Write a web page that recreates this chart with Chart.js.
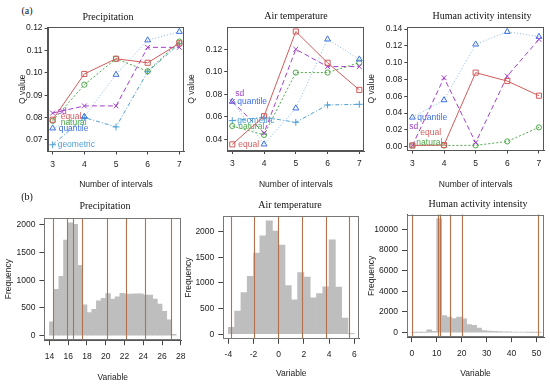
<!DOCTYPE html>
<html>
<head>
<meta charset="utf-8">
<script src="https://cdn.jsdelivr.net/npm/chart.js@4.4.1/dist/chart.umd.min.js"></script>
<style>
  body { margin: 0; background: #fff; }
  #page { position: relative; width: 550px; height: 384px; overflow: hidden; background: #fff; }
  #page canvas { position: absolute; }
  .ttl { position: absolute; font-family: "Liberation Serif", "Times New Roman", serif; font-size: 10px; color: #111;
         white-space: nowrap; transform: translate(-50%, -50%); z-index: 2; }
</style>
</head>
<body>
<div id="page">
  <div class="ttl" style="left:27px;top:10px">(a)</div>
  <div class="ttl" style="left:27px;top:196px">(b)</div>
  <div class="ttl" style="left:108px;top:16px">Precipitation</div>
  <div class="ttl" style="left:296px;top:15px">Air temperature</div>
  <div class="ttl" style="left:482px;top:15px">Human activity intensity</div>
  <div class="ttl" style="left:105px;top:205px">Precipitation</div>
  <div class="ttl" style="left:290px;top:204px">Air temperature</div>
  <div class="ttl" style="left:478px;top:203px">Human activity intensity</div>
</div>
<script>
// (a) Q value against number of intervals
const intervals = [3, 4, 5, 6, 7];

const precipEqual     = [0.0790, 0.0995, 0.1063, 0.1045, 0.1132];
const precipSd        = [0.0820, 0.0852, 0.0852, 0.1114, 0.1114];
const precipNatural   = [0.0785, 0.0947, 0.1063, 0.1007, 0.1140];
const precipQuantile  = [0.0752, 0.0804, 0.0992, 0.1146, 0.1184];
const precipGeometric = [0.0678, 0.0800, 0.0758, 0.1005, 0.1130];

const airEqual     = [0.0355, 0.0605, 0.1358, 0.1080, 0.0839];
const airSd        = [0.0735, 0.0457, 0.1200, 0.1046, 0.1046];
const airNatural   = [0.0518, 0.0439, 0.0993, 0.0993, 0.1081];
const airQuantile  = [0.0735, 0.0356, 0.0676, 0.1289, 0.1111];
const airGeometric = [0.0566, 0.0596, 0.0551, 0.0705, 0.0711];

const humanEqual    = [0.0015, 0.0020, 0.0881, 0.0781, 0.0607];
const humanSd       = [0.0012, 0.0821, 0.0048, 0.0841, 0.1277];
const humanNatural  = [0.0015, 0.0015, 0.0016, 0.0063, 0.0230];
const humanQuantile = [0.0349, 0.0555, 0.1218, 0.1368, 0.1309];

const precipQTicks = [0.07, 0.08, 0.09, 0.10, 0.11, 0.12];
const airQTicks = [0.04, 0.06, 0.08, 0.10, 0.12];
const humanQTicks = [0.00, 0.02, 0.04, 0.06, 0.08, 0.10, 0.12, 0.14];

// (b) histograms, bin counts and class breaks
const precipStart = 14, precipWidth = 0.5;
const precipCounts = [250, 835, 1070, 1725, 2040, 2010, 1270, 555, 415, 475, 630, 675, 760, 660,
                      700, 765, 750, 750, 755, 755, 735, 735, 660, 570, 440, 285, 25];
const precipBreaks = [14.33, 15.83, 16.56, 17.43, 20.12, 22.15, 24.14, 26.95];
const precipXTicks = [14, 16, 18, 20, 22, 24, 26, 28];
const precipFTicks = [0, 500, 1000, 1500, 2000];

const airStart = -4, airWidth = 0.5;
const airCounts = [135, 450, 815, 1130, 1585, 1920, 2212, 2012, 1740, 950,
                   672, 1205, 1115, 712, 795, 925, 1840, 920, 318, 20];
const airBreaks = [-3.80, -1.95, -0.04, 1.85, 3.72, 5.60];
const airXTicks = [-4, -2, 0, 2, 4, 6];
const airFTicks = [0, 500, 1000, 1500, 2000];

const humanStart = 0, humanWidth = 2;
const humanCounts = [20, 20, 30, 280, 130, 11050, 1660, 1500, 1370, 1500, 1330, 770, 710,
                     450, 210, 150, 120, 100, 90, 70, 60, 50, 40, 30, 25, 20];
const humanBreaks = [0.05, 10.5, 11.2, 15.3, 20.1, 50.7];
const humanXTicks = [0, 10, 20, 30, 40, 50];
const humanFTicks = [0, 2000, 4000, 6000, 8000, 10000];

// styles
const sans = '"Liberation Sans", Arial, sans-serif';
const tickFont = { family: sans, size: 8.5 };
const axisFont = { family: sans, size: 8.5 };
const ink = '#222';

const methodStyle = {
  equal:     { color: '#D25B5B', line: '#D25B5B', dash: [],           point: 'rect',     r: 3.6 },
  sd:        { color: '#A23FCB', line: '#A23FCB', dash: [5, 3],       point: 'crossRot', r: 3.4 },
  natural:   { color: '#4FA94A', line: '#4FA94A', dash: [2, 2],       point: 'circle',   r: 2.6 },
  quantile:  { color: '#3D6FE0', line: '#86B9EA', dash: [1, 2],       point: 'triangle', r: 3.4 },
  geometric: { color: '#4E9FD6', line: '#4E9FD6', dash: [4, 2, 1, 2], point: 'cross',    r: 3.4 }
};

const framePlugin = {
  id: 'frame',
  afterDraw(chart, args, opts) {
    const a = chart.chartArea, c = chart.ctx;
    c.save();
    c.strokeStyle = opts.color || '#555';
    c.lineWidth = 1;
    const l = Math.round(a.left) + 0.5, t = Math.round(a.top) + 0.5;
    const r = Math.round(a.right) - 0.5, b = Math.round(a.bottom) - 0.5;
    c.strokeRect(l, t, r - l, b - t);
    c.restore();
  }
};

// vertical class-break lines over the histogram
const breakPlugin = {
  id: 'breakLines',
  afterDatasetsDraw(chart, args, opts) {
    if (!opts.values) return;
    const xs = chart.scales.x, a = chart.chartArea, c = chart.ctx;
    c.save();
    c.strokeStyle = '#B5704C';
    c.lineWidth = 1.1;
    opts.values.forEach(v => {
      const px = Math.round(xs.getPixelForValue(v)) + 0.5;
      c.beginPath();
      c.moveTo(px, a.top);
      c.lineTo(px, a.bottom);
      c.stroke();
    });
    c.restore();
  }
};

// method names written beside the first point of each line
const namePlugin = {
  id: 'names',
  afterDatasetsDraw(chart, args, opts) {
    if (!opts.offsets) return;
    const c = chart.ctx;
    c.save();
    c.font = '8.5px ' + sans;
    c.textAlign = 'left';
    c.textBaseline = 'middle';
    chart.data.datasets.forEach((ds, i) => {
      const off = opts.offsets[ds.label];
      if (!off) return;
      const p = chart.getDatasetMeta(i).data[0];
      c.fillStyle = ds.pointBorderColor;
      c.fillText(ds.label, p.x + off[0], p.y + off[1]);
    });
    c.restore();
  }
};

function placeCanvas(g) {
  const lh = axisFont.size * 1.2;
  const yW = g.l - (g.yTitleX - lh / 2);
  const xH = g.xTitleY + lh / 2 - g.b;
  const left = Math.floor(g.l - yW - 3);
  const top = Math.floor(g.t - 10);
  const width = Math.ceil(g.r + 14 - left);
  const height = Math.ceil(g.b + xH + 2 - top);
  const cv = document.createElement('canvas');
  cv.width = width; cv.height = height;
  cv.style.left = left + 'px'; cv.style.top = top + 'px';
  cv.style.width = width + 'px'; cv.style.height = height + 'px';
  document.getElementById('page').appendChild(cv);
  return {
    cv, yW, xH,
    padding: { left: g.l - yW - left, top: g.t - top, right: left + width - g.r, bottom: top + height - g.b - xH }
  };
}

function makeScales(p, o) {
  return {
    x: {
      type: 'linear', min: o.xRange[0], max: o.xRange[1], offset: false,
      afterBuildTicks: s => { s.ticks = o.xTicks.map(v => ({ value: v })); },
      afterFit: s => { s.height = p.xH; },
      ticks: { font: tickFont, color: ink, padding: o.xPad, maxRotation: 0, autoSkip: false, callback: v => String(v) },
      grid: { drawOnChartArea: false, drawTicks: true, tickLength: o.tickLen, color: '#444', offset: false },
      border: { display: true, color: '#555' },
      title: { display: true, text: o.xTitle, font: axisFont, color: ink, padding: 0 }
    },
    y: {
      type: 'linear', min: o.yRange[0], max: o.yRange[1],
      afterBuildTicks: s => { s.ticks = o.yTicks.map(v => ({ value: v })); },
      afterFit: s => { s.width = p.yW; },
      ticks: { font: tickFont, color: ink, padding: o.yPad, autoSkip: false, callback: o.yFmt },
      grid: { drawOnChartArea: false, drawTicks: true, tickLength: o.tickLen, color: '#444' },
      border: { display: true, color: '#555' },
      title: { display: true, text: o.yTitle, font: axisFont, color: ink, padding: 0 }
    }
  };
}

function baseOptions(p, scales, plugins) {
  return {
    responsive: false, animation: false, devicePixelRatio: 1,
    layout: { padding: p.padding },
    scales,
    plugins: Object.assign({ legend: { display: false }, tooltip: { enabled: false }, title: { display: false } }, plugins)
  };
}

function qChart(g, series, yRange, yTicks, offsets) {
  const p = placeCanvas(g);
  const datasets = series.map(s => {
    const st = methodStyle[s.name];
    return {
      label: s.name,
      data: intervals.map((x, i) => ({ x, y: s.values[i] })),
      borderColor: st.line, borderWidth: 1, borderDash: st.dash,
      pointStyle: st.point, pointRadius: st.r, pointBorderColor: st.color,
      pointBackgroundColor: 'rgba(0,0,0,0)', pointBorderWidth: 1, fill: false, tension: 0
    };
  });
  const scales = makeScales(p, {
    xRange: [2.84, 7.16], xTicks: intervals, yRange, yTicks,
    yFmt: v => v.toFixed(2), xTitle: 'Number of intervals', yTitle: 'Q value',
    tickLen: 3, xPad: 5, yPad: 2
  });
  new Chart(p.cv, {
    type: 'line', data: { datasets },
    options: baseOptions(p, scales, { frame: { color: '#555' }, names: { offsets } }),
    plugins: [framePlugin, namePlugin]
  });
}

function histChart(g, start, width, counts, breaks, xRange, xTicks, yRange, yTicks) {
  const p = placeCanvas(g);
  const scales = makeScales(p, {
    xRange, xTicks, yRange, yTicks, yFmt: v => String(v),
    xTitle: 'Variable', yTitle: 'Frequency', tickLen: 5, xPad: 6, yPad: 4
  });
  new Chart(p.cv, {
    type: 'bar',
    data: { datasets: [{
      data: counts.map((c, i) => ({ x: start + width * (i + 0.5), y: c })),
      backgroundColor: '#BEBEBE', borderWidth: 0, barPercentage: 1, categoryPercentage: 1
    }] },
    options: baseOptions(p, scales, { frame: { color: '#777' }, breakLines: { values: breaks } }),
    plugins: [framePlugin, breakPlugin]
  });
}

qChart({ l: 47.6, t: 27, r: 184.4, b: 151.5, yTitleX: 23, xTitleY: 185 }, [
  { name: 'equal', values: precipEqual },
  { name: 'sd', values: precipSd },
  { name: 'quantile', values: precipQuantile },
  { name: 'natural', values: precipNatural },
  { name: 'geometric', values: precipGeometric }
], [0.0648, 0.1205], precipQTicks,
  { sd: [5, -1], equal: [8, -3], natural: [8, 2], quantile: [6, 0], geometric: [5, 0] });

qChart({ l: 227.2, t: 27, r: 364.4, b: 151, yTitleX: 192, xTitleY: 185 }, [
  { name: 'equal', values: airEqual },
  { name: 'sd', values: airSd },
  { name: 'quantile', values: airQuantile },
  { name: 'natural', values: airNatural },
  { name: 'geometric', values: airGeometric }
], [0.0296, 0.1398], airQTicks,
  { sd: [3, -8], quantile: [5, 0], geometric: [5, 0], natural: [6, 1], equal: [6, 0] });

qChart({ l: 407.3, t: 27, r: 544, b: 150.5, yTitleX: 372, xTitleY: 185 }, [
  { name: 'equal', values: humanEqual },
  { name: 'sd', values: humanSd },
  { name: 'quantile', values: humanQuantile },
  { name: 'natural', values: humanNatural }
], [-0.0045, 0.1424], humanQTicks,
  { quantile: [5, 0], sd: [-3, -19], equal: [8, -13], natural: [4, -3] });

histChart({ l: 44.4, t: 218.2, r: 181.2, b: 340.2, yTitleX: 8.5, xTitleY: 378 },
  precipStart, precipWidth, precipCounts, precipBreaks, [13.46, 28.04], precipXTicks, [-82, 2122], precipFTicks);

histChart({ l: 223.3, t: 216.4, r: 359.3, b: 338.8, yTitleX: 188.3, xTitleY: 374 },
  airStart, airWidth, airCounts, airBreaks, [-4.4, 6.4], airXTicks, [-88, 2298], airFTicks);

histChart({ l: 407, t: 214.5, r: 544, b: 337.2, yTitleX: 372, xTitleY: 373.3 },
  humanStart, humanWidth, humanCounts, humanBreaks, [-1.9, 53], humanXTicks, [-440, 11440], humanFTicks);
</script>
</body>
</html>
